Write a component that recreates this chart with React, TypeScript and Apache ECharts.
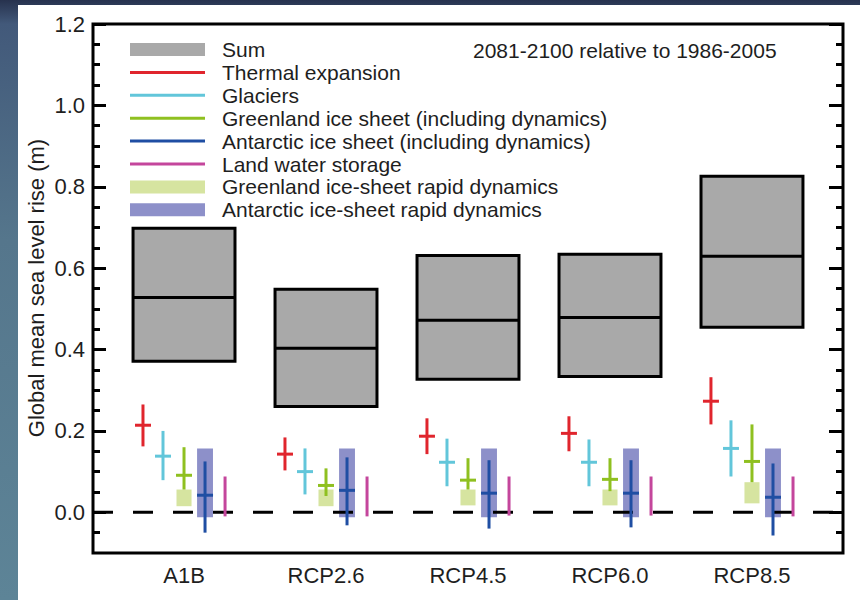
import React, { useEffect, useRef } from "react";
import * as echarts from "echarts";

const scenarios = ["A1B", "RCP2.6", "RCP4.5", "RCP6.0", "RCP8.5"];
const yTickValues = [0, 0.2, 0.4, 0.6, 0.8, 1.0, 1.2];
const yMinorTickValues = [-0.05, 0.05, 0.1, 0.15, 0.25, 0.3, 0.35, 0.45, 0.5, 0.55, 0.65, 0.7, 0.75, 0.85, 0.9, 0.95, 1.05, 1.1, 1.15];

const sumMedian = [0.528, 0.403, 0.472, 0.479, 0.629];
const sumLow = [0.371, 0.26, 0.327, 0.334, 0.455];
const sumHigh = [0.698, 0.548, 0.631, 0.634, 0.826];

const thermalMedian = [0.214, 0.143, 0.187, 0.194, 0.273];
const thermalLow = [0.162, 0.103, 0.143, 0.15, 0.216];
const thermalHigh = [0.265, 0.184, 0.231, 0.236, 0.332];

const glaciersMedian = [0.138, 0.1, 0.123, 0.123, 0.157];
const glaciersLow = [0.079, 0.044, 0.064, 0.064, 0.088];
const glaciersHigh = [0.2, 0.157, 0.181, 0.179, 0.226];

const greenlandMedian = [0.091, 0.066, 0.079, 0.081, 0.125];
const greenlandLow = [0.056, 0.04, 0.056, 0.052, 0.074];
const greenlandHigh = [0.16, 0.108, 0.133, 0.133, 0.216];

const antarcticMedian = [0.042, 0.054, 0.047, 0.047, 0.037];
const antarcticLow = [-0.05, -0.032, -0.04, -0.037, -0.057];
const antarcticHigh = [0.125, 0.135, 0.128, 0.128, 0.12];

const landLow = [-0.01, -0.01, -0.008, -0.008, -0.01];
const landHigh = [0.088, 0.088, 0.088, 0.088, 0.088];

const greenRapidLow = [0.015, 0.015, 0.017, 0.017, 0.022];
const greenRapidHigh = [0.056, 0.056, 0.056, 0.056, 0.074];

const antRapidLow = [-0.012, -0.012, -0.012, -0.012, -0.012];
const antRapidHigh = [0.157, 0.157, 0.157, 0.157, 0.157];

const zeroLine = [0, 0];

const legendLabels = [
  "Sum",
  "Thermal expansion",
  "Glaciers",
  "Greenland ice sheet (including dynamics)",
  "Antarctic ice sheet (including dynamics)",
  "Land water storage",
  "Greenland ice-sheet rapid dynamics",
  "Antarctic ice-sheet rapid dynamics",
];
const periodNote = "2081-2100 relative to 1986-2005";
const yTitle = "Global mean sea level rise (m)";

const FONT = "'Liberation Sans', Arial, Helvetica, sans-serif";
const TEXT = "#1e1e1e";
const C_SUM = "#a9a9a9";
const C_THERM = "#e0252d";
const C_GLAC = "#62c6da";
const C_GREEN = "#8fc020";
const C_ANT = "#1f4ea3";
const C_LAND = "#c4469c";
const C_GRAPID = "#d6e4a0";
const C_ARAPID = "#8d90c9";

const X_MIN = -0.641;
const X_MAX = 4.641;

function crossSeries(name: string, color: string, offset: number, low: number[], high: number[], med?: number[]) {
  return {
    type: "custom",
    name,
    data: scenarios.map((_, i) => [i, low[i], high[i], med ? med[i] : 0]),
    encode: { x: 0, y: [1, 2] },
    renderItem: (params: any, api: any) => {
      const x = api.value(0) + offset;
      const top = api.coord([x, api.value(2)]);
      const bot = api.coord([x, api.value(1)]);
      const children: any[] = [
        {
          type: "line",
          shape: { x1: top[0], y1: top[1], x2: bot[0], y2: bot[1] },
          style: { stroke: color, lineWidth: 3 },
        },
      ];
      if (med) {
        const m = api.coord([x, api.value(3)]);
        children.push({
          type: "line",
          shape: { x1: m[0] - 8, y1: m[1], x2: m[0] + 8, y2: m[1] },
          style: { stroke: color, lineWidth: 3 },
        });
      }
      return { type: "group", children };
    },
    z: 5,
  };
}

function rapidBoxSeries(name: string, color: string, offset: number, half: number, low: number[], high: number[]) {
  return {
    type: "custom",
    name,
    data: scenarios.map((_, i) => [i, low[i], high[i]]),
    encode: { x: 0, y: [1, 2] },
    renderItem: (params: any, api: any) => {
      const x = api.value(0) + offset;
      const p1 = api.coord([x - half, api.value(2)]);
      const p2 = api.coord([x + half, api.value(1)]);
      return {
        type: "rect",
        shape: { x: p1[0], y: p1[1], width: p2[0] - p1[0], height: p2[1] - p1[1] },
        style: { fill: color },
      };
    },
    z: 2,
  };
}

export default function App() {
  const ref = useRef<HTMLDivElement>(null);

  useEffect(() => {
    if (!ref.current) return;
    const chart = echarts.init(ref.current, null, { renderer: "svg" });

    const sumSeries = {
      type: "custom",
      name: "Sum",
      data: scenarios.map((_, i) => [i, sumLow[i], sumHigh[i], sumMedian[i]]),
      encode: { x: 0, y: [1, 2] },
      renderItem: (params: any, api: any) => {
        const x = api.value(0);
        const half = 0.359;
        const p1 = api.coord([x - half, api.value(2)]);
        const p2 = api.coord([x + half, api.value(1)]);
        const m = api.coord([x, api.value(3)]);
        return {
          type: "group",
          children: [
            {
              type: "rect",
              shape: { x: p1[0], y: p1[1], width: p2[0] - p1[0], height: p2[1] - p1[1] },
              style: { fill: C_SUM, stroke: "#000", lineWidth: 3 },
            },
            {
              type: "line",
              shape: { x1: p1[0], y1: m[1], x2: p2[0], y2: m[1] },
              style: { stroke: "#000", lineWidth: 3 },
            },
          ],
        };
      },
      z: 2,
    };

    const legendGraphics: any[] = [];
    const legendColors = [C_SUM, C_THERM, C_GLAC, C_GREEN, C_ANT, C_LAND, C_GRAPID, C_ARAPID];
    const legendIsBox = [true, false, false, false, false, false, true, true];
    legendLabels.forEach((label, i) => {
      const cy = 49.5 + i * 22.9;
      legendGraphics.push({
        type: "rect",
        left: 130,
        top: legendIsBox[i] ? cy - 6.5 : cy - 1.5,
        shape: { width: 75, height: legendIsBox[i] ? 13 : 3 },
        style: { fill: legendColors[i] },
      });
      legendGraphics.push({
        type: "text",
        x: 222,
        y: cy,
        style: {
          text: label,
          font: `21px ${FONT}`,
          fill: TEXT,
          textVerticalAlign: "middle",
          textAlign: "left",
        },
      });
    });

    const yCommon = {
      type: "value",
      min: -0.1,
      max: 1.2,
      splitLine: { show: false },
      axisLine: { show: false, onZero: false },
    };

    chart.setOption({
      animation: false,
      backgroundColor: "transparent",
      grid: {
        left: 93,
        right: 17,
        top: 24,
        bottom: 47,
        show: true,
        borderColor: "#000",
        borderWidth: 3,
        backgroundColor: "transparent",
        containLabel: false,
      },
      xAxis: [
        {
          type: "value",
          min: X_MIN,
          max: X_MAX,
          position: "bottom",
          axisLine: { show: false, onZero: false },
          axisTick: { show: false },
          splitLine: { show: false },
          axisLabel: {
            customValues: [0, 1, 2, 3, 4],
            formatter: (v: number) => scenarios[Math.round(v)],
            fontSize: 22,
            fontFamily: FONT,
            color: TEXT,
            margin: 11,
          },
        },
      ],
      yAxis: [
        {
          ...yCommon,
          position: "left",
          axisTick: { show: true, inside: true, length: 13, lineStyle: { color: "#000", width: 3 }, customValues: yTickValues },
          axisLabel: {
            customValues: yTickValues,
            formatter: (v: number) => v.toFixed(1),
            fontSize: 22,
            fontFamily: FONT,
            color: TEXT,
            margin: 8,
          },
        },
        {
          ...yCommon,
          position: "left",
          axisTick: { show: true, inside: true, length: 7, lineStyle: { color: "#000", width: 3 }, customValues: yMinorTickValues },
          axisLabel: { show: false },
        },
        {
          ...yCommon,
          position: "right",
          axisTick: { show: true, inside: true, length: 14, lineStyle: { color: "#000", width: 3 }, customValues: yTickValues },
          axisLabel: { show: false },
        },
        {
          ...yCommon,
          position: "right",
          axisTick: { show: true, inside: true, length: 7, lineStyle: { color: "#000", width: 3 }, customValues: yMinorTickValues },
          axisLabel: { show: false },
        },
      ],
      graphic: [
        ...legendGraphics,
        {
          type: "text",
          x: 473,
          y: 50,
          style: {
            text: periodNote,
            font: `21px ${FONT}`,
            fill: TEXT,
            textVerticalAlign: "middle",
            textAlign: "left",
          },
        },
        {
          type: "text",
          x: 36,
          y: 288,
          rotation: Math.PI / 2,
          style: {
            text: yTitle,
            font: `22px ${FONT}`,
            fill: TEXT,
            textVerticalAlign: "middle",
            textAlign: "center",
          },
        },
      ],
      series: [
        sumSeries,
        rapidBoxSeries("Greenland ice-sheet rapid dynamics", C_GRAPID, 0, 0.053, greenRapidLow, greenRapidHigh),
        rapidBoxSeries("Antarctic ice-sheet rapid dynamics", C_ARAPID, 0.148, 0.056, antRapidLow, antRapidHigh),
        {
          type: "line",
          name: "zero",
          data: [
            [X_MIN, zeroLine[0]],
            [X_MAX, zeroLine[1]],
          ],
          symbol: "none",
          silent: true,
          lineStyle: { color: "#000", width: 3, type: [20, 20] },
          z: 3,
        },
        crossSeries("Thermal expansion", C_THERM, -0.289, thermalLow, thermalHigh, thermalMedian),
        crossSeries("Glaciers", C_GLAC, -0.148, glaciersLow, glaciersHigh, glaciersMedian),
        crossSeries("Greenland ice sheet (including dynamics)", C_GREEN, 0, greenlandLow, greenlandHigh, greenlandMedian),
        crossSeries("Antarctic ice sheet (including dynamics)", C_ANT, 0.148, antarcticLow, antarcticHigh, antarcticMedian),
        crossSeries("Land water storage", C_LAND, 0.289, landLow, landHigh),
      ],
    });

    return () => chart.dispose();
  }, []);

  return (
    <div
      style={{
        position: "fixed",
        left: 0,
        top: 0,
        width: 860,
        height: 600,
        background: "linear-gradient(180deg, #27324e 0%, #42597a 4%, #55768c 40%, #5d8497 100%)",
        overflow: "hidden",
      }}
    >
      <div style={{ position: "absolute", left: 18, top: 5, width: 842, height: 595, background: "#ffffff" }} />
      <div ref={ref} style={{ position: "absolute", left: 0, top: 0, width: 860, height: 600 }} />
    </div>
  );
}
